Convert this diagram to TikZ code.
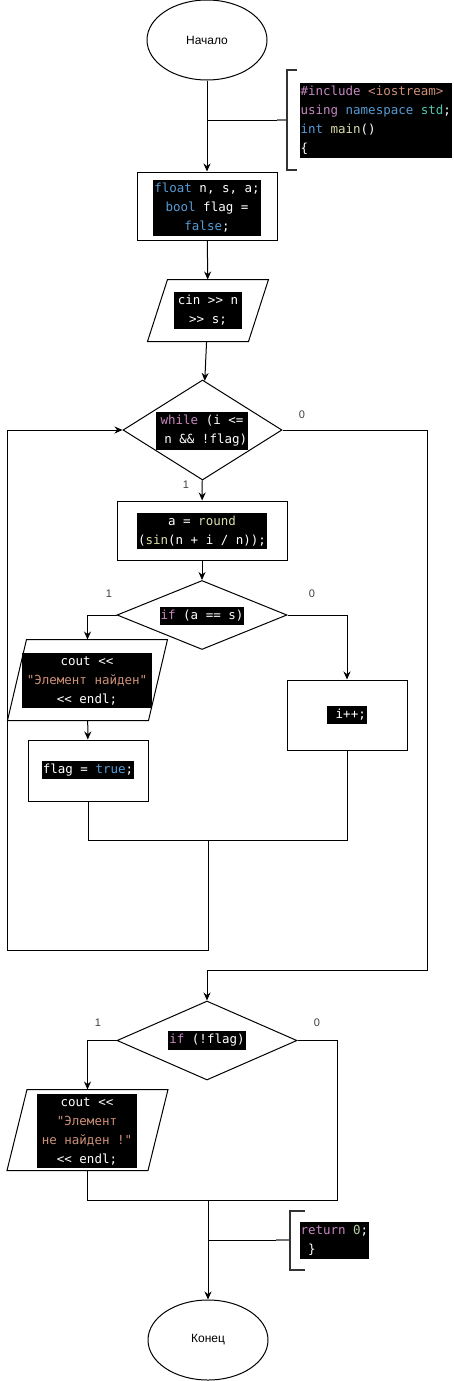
\documentclass[tikz,border=0pt]{standalone}
\usepackage{fontspec}
\setmainfont{Liberation Sans}
\newfontfamily\codefont[Ligatures=TeXOff]{DejaVu Sans Mono}
\usetikzlibrary{shapes.geometric,arrows.meta}
\definecolor{kwpurple}{HTML}{C586C0}
\definecolor{kwblue}{HTML}{569CD6}
\definecolor{strorange}{HTML}{CE9178}
\definecolor{fnyellow}{HTML}{DCDCAA}
\definecolor{nsgreen}{HTML}{4EC9B0}
\definecolor{numgreen}{HTML}{B5CEA8}
\newcommand{\cpurple}[1]{\textcolor{kwpurple}{#1}}
\newcommand{\cblue}[1]{\textcolor{kwblue}{#1}}
\newcommand{\cstr}[1]{\textcolor{strorange}{#1}}
\newcommand{\cfn}[1]{\textcolor{fnyellow}{#1}}
\newcommand{\cns}[1]{\textcolor{nsgreen}{#1}}
\newcommand{\cnum}[1]{\textcolor{numgreen}{#1}}
\begin{document}
\begin{tikzpicture}[x=1pt,y=-1pt,line width=1pt,
	terminal/.style={ellipse, draw, minimum width=120pt, minimum height=80pt, inner sep=0pt, font=\fontsize{12}{14}\selectfont},
	process/.style={rectangle, draw, inner sep=0pt},
	decision/.style={diamond, draw, inner sep=0pt},
	io/.style={rectangle, inner sep=0pt},
	code/.style={fill=black, text=white, font=\codefont\fontsize{12.5}{19}\selectfont, align=center, inner xsep=1pt, inner ysep=3pt},
	flow/.style={-{Stealth[length=8pt,width=7pt]}},
	brace/.style={line width=2pt, draw=black!80},
	stem/.style={line width=2pt, draw=black!55},
	num/.style={font=\fontsize{11}{13}\selectfont, text=black!75}]
				\useasboundingbox (0,0) rectangle (454,1381);
				\node[terminal] (start) at (207,40) {Начало};
				\node[process, minimum width=140pt, minimum height=68pt] (init) at (207,206) {};
				\node[io, minimum width=120pt, minimum height=61pt] (read) at (208,310.5) {};
				\node[decision, minimum width=159pt, minimum height=100pt] (loop) at (202.5,430) {};
				\node[process, minimum width=170pt, minimum height=59pt] (calc) at (202,530.5) {};
				\node[decision, minimum width=170pt, minimum height=69pt] (check) at (202,615) {};
				\node[io, minimum width=159pt, minimum height=80pt] (found) at (87.5,680) {};
				\node[process, minimum width=120pt, minimum height=61pt] (setflag) at (88,770.5) {};
				\node[process, minimum width=120pt, minimum height=70pt] (incr) at (347,715) {};
				\node[decision, minimum width=180pt, minimum height=79pt] (final) at (207,1040.5) {};
				\node[io, minimum width=160pt, minimum height=80pt] (notfound) at (87.5,1130) {};
				\node[terminal] (stop) at (208,1340) {Конец};
				\foreach \n/\s in {read/20,found/19,notfound/20}
				\draw (\n.south west) -- ([xshift=\s pt]\n.north west) -- (\n.north east) -- ([xshift=-\s pt]\n.south east) -- cycle;

				\node[code, align=left, anchor=west] (hdrcode) at (299,120.5) {\cpurple{\#include} \cstr{<iostream>}\\\cpurple{using} \cblue{namespace} \cns{std};\\\cblue{int} \cfn{main}()\\\{};
				\node[code] (initcode) at (207,208) {\cblue{float} n, s, a;\\\cblue{bool} flag =\\\cblue{false};};
				\node[code, inner xsep=4pt] (readcode) at (208,310.5) {cin >> n\\>> s;};
				\node[code] (loopcode) at (202,431) {\cpurple{while} (i <=\\\hphantom{x}n \&\& !flag)};
				\node[code] (calccode) at (202,531) {a = \cfn{round}\\(\cfn{sin}(n + i / n));};
				\node[code] (checkcode) at (202,616) {\cpurple{if} (a == s)};
				\node[code, inner xsep=5pt] (foundcode) at (87,680.5) {cout <<\\\cstr{"Элемент найден"}\\<< endl;};
				\node[code] (setflagcode) at (88,770) {flag = \cblue{true};};
				\node[code] (incrcode) at (347,715) {\hphantom{x}i++;};
				\node[code] (finalcode) at (207,1040.5) {\cpurple{if} (!flag)};
				\node[code, inner xsep=5pt] (notfoundcode) at (87,1131) {cout <<\\\cstr{"Элемент}\\\cstr{не найден !"}\\<< endl;};
				\node[code, align=left, anchor=west] (retcode) at (299,1240.5) {\cpurple{return} \cnum{0};\\\hphantom{x}\}};

				\draw (302,415) node[num] (loopno) {0};
				\draw (186,485) node[num] (loopyes) {1};
				\draw (109,594) node[num] (checkyes) {1};
				\draw (312,594) node[num] (checkno) {0};
				\draw (98,1023) node[num] (finalyes) {1};
				\draw (317,1023) node[num] (finalno) {0};

				\coordinate (fork) at (207,120);
				\coordinate (join) at (208,840);
				\coordinate (join2) at (208,1200);
				\coordinate (fork2) at (208,1240);

				\draw[flow] (start) -- (init);
				\draw (fork) -- (277,120);
				\draw[stem] (277,120) -- (287,120);
				\draw[brace] (297,70) -- (287,70) -- (287,170) -- (297,170);
				\draw[flow] (init) -- (read);
				\draw[flow] (read) -- (loop);
				\draw[flow] (loop) -- (calc);
				\draw[flow] (calc) -- (check);
				\draw[flow] (check.west) -| (found.north);
				\draw[flow] (check.east) -| (incr.north);
				\draw[flow] (found) -- (setflag);
				\draw (setflag) |- (join) -| (incr);
				\draw[flow] (join) |- (7,950) |- (loop.west);
				\draw[flow] (loop.east) -| (427,970) -| (final.north);
				\draw[flow] (final.west) -| (notfound.north);
				\draw (final.east) -| (337,1200) -- (join2);
				\draw (notfound) |- (join2);
				\draw[flow] (join2) -- (stop);
				\draw (fork2) -- (276,1240);
				\draw[stem] (276,1240) -- (290,1240);
				\draw[brace] (305,1211) -- (290,1211) -- (290,1270) -- (305,1270);
\end{tikzpicture}
\end{document}
